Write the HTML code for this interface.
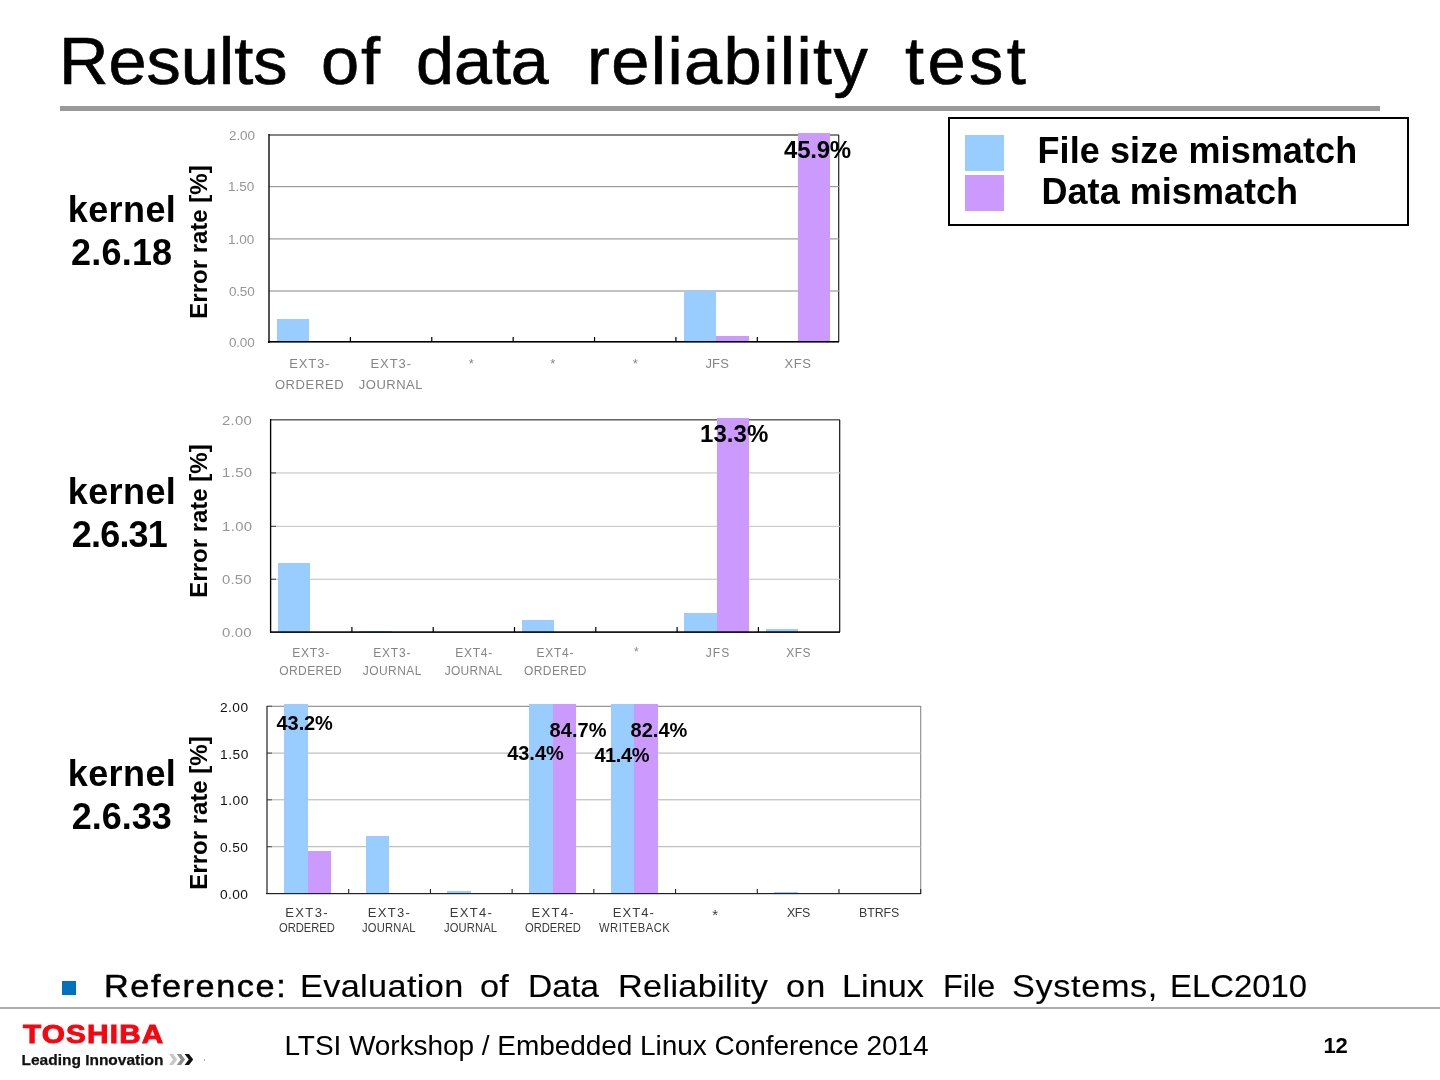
<!DOCTYPE html>
<html><head><meta charset="utf-8"><title>Results of data reliability test</title>
<style>
html,body{margin:0;padding:0;background:#fff;}
body{width:1440px;height:1080px;position:relative;overflow:hidden;font-family:"Liberation Sans",sans-serif;color:#000;}
.a{position:absolute;white-space:nowrap;line-height:1;}
.b{font-weight:bold;}
.r{position:absolute;}
.bl{background:#99ccff;}
.pu{background:#cc99ff;}
.er{position:absolute;font-weight:bold;white-space:nowrap;line-height:1;transform:translate(-50%,-50%) rotate(-90deg);}
</style></head><body>
<div class="a" style="left:58.8px;top:28.2px;font-size:66px;font-weight:normal;letter-spacing:-0.00px;transform-origin:0 0;transform:scaleX(1.038);-webkit-text-stroke:0.65px #000;">Results</div>
<div class="a" style="left:321.4px;top:28.2px;font-size:66px;font-weight:normal;letter-spacing:1.81px;transform-origin:0 0;transform:scaleX(1.040);-webkit-text-stroke:0.65px #000;">of</div>
<div class="a" style="left:416.4px;top:28.2px;font-size:66px;font-weight:normal;letter-spacing:0.00px;transform-origin:0 0;transform:scaleX(1.034);-webkit-text-stroke:0.65px #000;">data</div>
<div class="a" style="left:586.8px;top:28.2px;font-size:66px;font-weight:normal;letter-spacing:1.33px;transform-origin:0 0;transform:scaleX(1.040);-webkit-text-stroke:0.65px #000;">reliability</div>
<div class="a" style="left:905.2px;top:28.2px;font-size:66px;font-weight:normal;letter-spacing:3.29px;transform-origin:0 0;transform:scaleX(1.040);-webkit-text-stroke:0.65px #000;">test</div>
<div class="r " style="left:60.0px;top:106.0px;width:1320.0px;height:4.5px;background:#999;"></div>
<div class="r " style="left:269.0px;top:134.0px;width:570.0px;height:1.0px;background:rgba(51,51,51,0.60);"></div>
<div class="r " style="left:269.0px;top:135.0px;width:570.0px;height:1.0px;background:rgba(51,51,51,0.60);"></div>
<div class="r " style="left:838.0px;top:135.0px;width:1.0px;height:207.0px;background:rgba(34,34,34,0.90);"></div>
<div class="r " style="left:839.0px;top:135.0px;width:1.0px;height:207.0px;background:rgba(34,34,34,0.30);"></div>
<div class="r " style="left:269.0px;top:186.0px;width:570.0px;height:1.0px;background:rgba(154,154,154,1.00);"></div>
<div class="r " style="left:269.0px;top:187.0px;width:570.0px;height:1.0px;background:rgba(154,154,154,0.20);"></div>
<div class="r " style="left:269.0px;top:238.0px;width:570.0px;height:1.0px;background:rgba(154,154,154,0.70);"></div>
<div class="r " style="left:269.0px;top:239.0px;width:570.0px;height:1.0px;background:rgba(154,154,154,0.50);"></div>
<div class="r " style="left:269.0px;top:290.0px;width:570.0px;height:1.0px;background:rgba(154,154,154,0.60);"></div>
<div class="r " style="left:269.0px;top:291.0px;width:570.0px;height:1.0px;background:rgba(154,154,154,0.60);"></div>
<div class="r bl" style="left:277.0px;top:319.0px;width:32.0px;height:23.0px;"></div>
<div class="r bl" style="left:684.0px;top:291.0px;width:32.0px;height:51.0px;"></div>
<div class="r pu" style="left:716.0px;top:336.0px;width:33.0px;height:6.0px;"></div>
<div class="r pu" style="left:798.0px;top:133.0px;width:32.0px;height:209.0px;"></div>
<div class="r " style="left:268.0px;top:134.0px;width:1.0px;height:209.0px;background:rgba(0,0,0,0.68);"></div>
<div class="r " style="left:269.0px;top:134.0px;width:1.0px;height:209.0px;background:rgba(0,0,0,0.68);"></div>
<div class="r " style="left:268.0px;top:341.0px;width:571.0px;height:1.0px;background:rgba(0,0,0,1.00);"></div>
<div class="r " style="left:268.0px;top:342.0px;width:571.0px;height:1.0px;background:rgba(0,0,0,0.60);"></div>
<div class="r " style="left:349.0px;top:337.0px;width:1.0px;height:5.0px;background:rgba(0,0,0,0.21);"></div>
<div class="r " style="left:350.0px;top:337.0px;width:1.0px;height:5.0px;background:rgba(0,0,0,0.99);"></div>
<div class="r " style="left:431.0px;top:337.0px;width:1.0px;height:5.0px;background:rgba(0,0,0,0.83);"></div>
<div class="r " style="left:432.0px;top:337.0px;width:1.0px;height:5.0px;background:rgba(0,0,0,0.37);"></div>
<div class="r " style="left:512.0px;top:337.0px;width:1.0px;height:5.0px;background:rgba(0,0,0,0.44);"></div>
<div class="r " style="left:513.0px;top:337.0px;width:1.0px;height:5.0px;background:rgba(0,0,0,0.76);"></div>
<div class="r " style="left:593.0px;top:337.0px;width:1.0px;height:5.0px;background:rgba(0,0,0,0.06);"></div>
<div class="r " style="left:594.0px;top:337.0px;width:1.0px;height:5.0px;background:rgba(0,0,0,1.00);"></div>
<div class="r " style="left:595.0px;top:337.0px;width:1.0px;height:5.0px;background:rgba(0,0,0,0.14);"></div>
<div class="r " style="left:675.0px;top:337.0px;width:1.0px;height:5.0px;background:rgba(0,0,0,0.67);"></div>
<div class="r " style="left:676.0px;top:337.0px;width:1.0px;height:5.0px;background:rgba(0,0,0,0.53);"></div>
<div class="r " style="left:756.0px;top:337.0px;width:1.0px;height:5.0px;background:rgba(0,0,0,0.29);"></div>
<div class="r " style="left:757.0px;top:337.0px;width:1.0px;height:5.0px;background:rgba(0,0,0,0.91);"></div>
<div class="a" style="left:228.7px;top:129.8px;font-size:12.5px;font-weight:normal;letter-spacing:-0.10px;transform-origin:0 0;transform:scaleX(1.080);color:#969696;">2.00</div>
<div class="a" style="left:228.4px;top:181.2px;font-size:12.5px;font-weight:normal;letter-spacing:-0.02px;transform-origin:0 0;transform:scaleX(1.080);color:#969696;">1.50</div>
<div class="a" style="left:228.4px;top:233.8px;font-size:12.5px;font-weight:normal;letter-spacing:-0.02px;transform-origin:0 0;transform:scaleX(1.080);color:#969696;">1.00</div>
<div class="a" style="left:229.0px;top:285.8px;font-size:12.5px;font-weight:normal;letter-spacing:-0.19px;transform-origin:0 0;transform:scaleX(1.080);color:#969696;">0.50</div>
<div class="a" style="left:229.0px;top:337.2px;font-size:12.5px;font-weight:normal;letter-spacing:-0.19px;transform-origin:0 0;transform:scaleX(1.080);color:#969696;">0.00</div>
<div class="a" style="left:289.2px;top:357.4px;font-size:13px;font-weight:normal;letter-spacing:0.81px;color:#858585;">EXT3-</div>
<div class="a" style="left:274.9px;top:377.6px;font-size:13px;font-weight:normal;letter-spacing:0.61px;color:#858585;">ORDERED</div>
<div class="a" style="left:370.5px;top:357.4px;font-size:13px;font-weight:normal;letter-spacing:0.91px;color:#858585;">EXT3-</div>
<div class="a" style="left:358.8px;top:377.6px;font-size:13px;font-weight:normal;letter-spacing:0.50px;color:#858585;">JOURNAL</div>
<div class="a" style="left:468.8px;top:356.5px;font-size:13px;font-weight:normal;letter-spacing:0.50px;color:#858585;">*</div>
<div class="a" style="left:550.2px;top:356.5px;font-size:13px;font-weight:normal;letter-spacing:0.50px;color:#858585;">*</div>
<div class="a" style="left:632.8px;top:356.5px;font-size:13px;font-weight:normal;letter-spacing:0.50px;color:#858585;">*</div>
<div class="a" style="left:705.5px;top:357.4px;font-size:13px;font-weight:normal;letter-spacing:0.12px;color:#858585;">JFS</div>
<div class="a" style="left:784.5px;top:357.4px;font-size:13px;font-weight:normal;letter-spacing:0.57px;color:#858585;">XFS</div>
<div class="r " style="left:271.0px;top:419.0px;width:569.0px;height:1.0px;background:rgba(85,85,85,0.90);"></div>
<div class="r " style="left:271.0px;top:420.0px;width:569.0px;height:1.0px;background:rgba(85,85,85,0.50);"></div>
<div class="r " style="left:839.0px;top:420.0px;width:1.0px;height:212.0px;background:rgba(17,17,17,0.90);"></div>
<div class="r " style="left:840.0px;top:420.0px;width:1.0px;height:212.0px;background:rgba(17,17,17,0.30);"></div>
<div class="r " style="left:271.0px;top:472.0px;width:569.0px;height:1.0px;background:rgba(203,203,203,0.70);"></div>
<div class="r " style="left:271.0px;top:473.0px;width:569.0px;height:1.0px;background:rgba(203,203,203,0.50);"></div>
<div class="r " style="left:271.0px;top:525.0px;width:569.0px;height:1.0px;background:rgba(203,203,203,0.20);"></div>
<div class="r " style="left:271.0px;top:526.0px;width:569.0px;height:1.0px;background:rgba(203,203,203,1.00);"></div>
<div class="r " style="left:271.0px;top:578.0px;width:569.0px;height:1.0px;background:rgba(203,203,203,0.30);"></div>
<div class="r " style="left:271.0px;top:579.0px;width:569.0px;height:1.0px;background:rgba(203,203,203,0.90);"></div>
<div class="r bl" style="left:278.0px;top:563.0px;width:32.0px;height:69.0px;"></div>
<div class="r bl" style="left:359.0px;top:631.0px;width:33.0px;height:1.0px;"></div>
<div class="r bl" style="left:522.0px;top:620.0px;width:32.0px;height:12.0px;"></div>
<div class="r bl" style="left:684.0px;top:613.0px;width:33.0px;height:19.0px;"></div>
<div class="r pu" style="left:717.0px;top:418.0px;width:32.0px;height:214.0px;"></div>
<div class="r bl" style="left:766.0px;top:629.0px;width:32.0px;height:3.0px;"></div>
<div class="r " style="left:271.0px;top:472.0px;width:5.0px;height:1.0px;background:rgba(85,85,85,0.70);"></div>
<div class="r " style="left:271.0px;top:473.0px;width:5.0px;height:1.0px;background:rgba(85,85,85,0.50);"></div>
<div class="r " style="left:271.0px;top:525.0px;width:5.0px;height:1.0px;background:rgba(85,85,85,0.20);"></div>
<div class="r " style="left:271.0px;top:526.0px;width:5.0px;height:1.0px;background:rgba(85,85,85,1.00);"></div>
<div class="r " style="left:271.0px;top:578.0px;width:5.0px;height:1.0px;background:rgba(85,85,85,0.30);"></div>
<div class="r " style="left:271.0px;top:579.0px;width:5.0px;height:1.0px;background:rgba(85,85,85,0.90);"></div>
<div class="r " style="left:269.0px;top:419.0px;width:1.0px;height:214.0px;background:rgba(0,0,0,0.07);"></div>
<div class="r " style="left:270.0px;top:419.0px;width:1.0px;height:214.0px;background:rgba(0,0,0,1.00);"></div>
<div class="r " style="left:271.0px;top:419.0px;width:1.0px;height:214.0px;background:rgba(0,0,0,0.28);"></div>
<div class="r " style="left:270.0px;top:631.0px;width:570.0px;height:1.0px;background:rgba(0,0,0,0.70);"></div>
<div class="r " style="left:270.0px;top:632.0px;width:570.0px;height:1.0px;background:rgba(0,0,0,0.90);"></div>
<div class="r " style="left:351.0px;top:627.0px;width:1.0px;height:5.0px;background:rgba(0,0,0,0.70);"></div>
<div class="r " style="left:352.0px;top:627.0px;width:1.0px;height:5.0px;background:rgba(0,0,0,0.50);"></div>
<div class="r " style="left:432.0px;top:627.0px;width:1.0px;height:5.0px;background:rgba(0,0,0,0.40);"></div>
<div class="r " style="left:433.0px;top:627.0px;width:1.0px;height:5.0px;background:rgba(0,0,0,0.80);"></div>
<div class="r " style="left:513.0px;top:627.0px;width:1.0px;height:5.0px;background:rgba(0,0,0,0.10);"></div>
<div class="r " style="left:514.0px;top:627.0px;width:1.0px;height:5.0px;background:rgba(0,0,0,1.00);"></div>
<div class="r " style="left:515.0px;top:627.0px;width:1.0px;height:5.0px;background:rgba(0,0,0,0.10);"></div>
<div class="r " style="left:595.0px;top:627.0px;width:1.0px;height:5.0px;background:rgba(0,0,0,0.80);"></div>
<div class="r " style="left:596.0px;top:627.0px;width:1.0px;height:5.0px;background:rgba(0,0,0,0.40);"></div>
<div class="r " style="left:676.0px;top:627.0px;width:1.0px;height:5.0px;background:rgba(0,0,0,0.50);"></div>
<div class="r " style="left:677.0px;top:627.0px;width:1.0px;height:5.0px;background:rgba(0,0,0,0.70);"></div>
<div class="r " style="left:757.0px;top:627.0px;width:1.0px;height:5.0px;background:rgba(0,0,0,0.20);"></div>
<div class="r " style="left:758.0px;top:627.0px;width:1.0px;height:5.0px;background:rgba(0,0,0,1.00);"></div>
<div class="a" style="left:221.9px;top:414.0px;font-size:13.5px;font-weight:normal;letter-spacing:0.27px;transform-origin:0 0;transform:scaleX(1.100);color:#969696;">2.00</div>
<div class="a" style="left:221.6px;top:466.2px;font-size:13.5px;font-weight:normal;letter-spacing:0.36px;transform-origin:0 0;transform:scaleX(1.100);color:#969696;">1.50</div>
<div class="a" style="left:221.6px;top:519.5px;font-size:13.5px;font-weight:normal;letter-spacing:0.36px;transform-origin:0 0;transform:scaleX(1.100);color:#969696;">1.00</div>
<div class="a" style="left:222.1px;top:572.7px;font-size:13.5px;font-weight:normal;letter-spacing:0.19px;transform-origin:0 0;transform:scaleX(1.100);color:#969696;">0.50</div>
<div class="a" style="left:222.1px;top:625.7px;font-size:13.5px;font-weight:normal;letter-spacing:0.19px;transform-origin:0 0;transform:scaleX(1.100);color:#969696;">0.00</div>
<div class="a" style="left:292.3px;top:646.5px;font-size:12px;font-weight:normal;letter-spacing:0.72px;color:#858585;">EXT3-</div>
<div class="a" style="left:279.3px;top:664.5px;font-size:12px;font-weight:normal;letter-spacing:0.40px;color:#858585;">ORDERED</div>
<div class="a" style="left:373.2px;top:646.5px;font-size:12px;font-weight:normal;letter-spacing:0.83px;color:#858585;">EXT3-</div>
<div class="a" style="left:362.8px;top:664.5px;font-size:12px;font-weight:normal;letter-spacing:0.43px;color:#858585;">JOURNAL</div>
<div class="a" style="left:455.2px;top:646.5px;font-size:12px;font-weight:normal;letter-spacing:0.75px;color:#858585;">EXT4-</div>
<div class="a" style="left:444.8px;top:664.5px;font-size:12px;font-weight:normal;letter-spacing:0.24px;color:#858585;">JOURNAL</div>
<div class="a" style="left:536.6px;top:646.5px;font-size:12px;font-weight:normal;letter-spacing:0.72px;color:#858585;">EXT4-</div>
<div class="a" style="left:524.0px;top:664.5px;font-size:12px;font-weight:normal;letter-spacing:0.42px;color:#858585;">ORDERED</div>
<div class="a" style="left:634.0px;top:645.8px;font-size:12px;font-weight:normal;letter-spacing:0.45px;color:#858585;">*</div>
<div class="a" style="left:705.8px;top:646.5px;font-size:12px;font-weight:normal;letter-spacing:1.00px;color:#858585;">JFS</div>
<div class="a" style="left:786.2px;top:646.5px;font-size:12px;font-weight:normal;letter-spacing:0.50px;color:#858585;">XFS</div>
<div class="r " style="left:267.0px;top:705.0px;width:654.0px;height:1.0px;background:rgba(138,138,138,0.25);"></div>
<div class="r " style="left:267.0px;top:706.0px;width:654.0px;height:1.0px;background:rgba(138,138,138,0.85);"></div>
<div class="r " style="left:920.0px;top:706.0px;width:1.0px;height:188.0px;background:rgba(138,138,138,0.85);"></div>
<div class="r " style="left:921.0px;top:706.0px;width:1.0px;height:188.0px;background:rgba(138,138,138,0.25);"></div>
<div class="r " style="left:267.0px;top:752.0px;width:654.0px;height:1.0px;background:rgba(176,176,176,0.40);"></div>
<div class="r " style="left:267.0px;top:753.0px;width:654.0px;height:1.0px;background:rgba(176,176,176,0.60);"></div>
<div class="r " style="left:267.0px;top:799.0px;width:654.0px;height:1.0px;background:rgba(176,176,176,0.70);"></div>
<div class="r " style="left:267.0px;top:800.0px;width:654.0px;height:1.0px;background:rgba(176,176,176,0.30);"></div>
<div class="r " style="left:267.0px;top:846.0px;width:654.0px;height:1.0px;background:rgba(176,176,176,0.80);"></div>
<div class="r " style="left:267.0px;top:847.0px;width:654.0px;height:1.0px;background:rgba(176,176,176,0.20);"></div>
<div class="r bl" style="left:284.0px;top:704.0px;width:24.0px;height:190.0px;"></div>
<div class="r pu" style="left:308.0px;top:851.0px;width:23.0px;height:43.0px;"></div>
<div class="r bl" style="left:366.0px;top:836.0px;width:23.0px;height:58.0px;"></div>
<div class="r bl" style="left:447.0px;top:891.0px;width:24.0px;height:3.0px;"></div>
<div class="r bl" style="left:529.0px;top:704.0px;width:24.0px;height:190.0px;"></div>
<div class="r pu" style="left:553.0px;top:704.0px;width:23.0px;height:190.0px;"></div>
<div class="r bl" style="left:611.0px;top:704.0px;width:23.0px;height:190.0px;"></div>
<div class="r pu" style="left:634.0px;top:704.0px;width:24.0px;height:190.0px;"></div>
<div class="r bl" style="left:774.0px;top:892.0px;width:24.0px;height:2.0px;"></div>
<div class="r " style="left:267.0px;top:705.0px;width:5.0px;height:1.0px;background:rgba(85,85,85,0.25);"></div>
<div class="r " style="left:267.0px;top:706.0px;width:5.0px;height:1.0px;background:rgba(85,85,85,0.85);"></div>
<div class="r " style="left:267.0px;top:752.0px;width:5.0px;height:1.0px;background:rgba(85,85,85,0.45);"></div>
<div class="r " style="left:267.0px;top:753.0px;width:5.0px;height:1.0px;background:rgba(85,85,85,0.65);"></div>
<div class="r " style="left:267.0px;top:799.0px;width:5.0px;height:1.0px;background:rgba(85,85,85,0.75);"></div>
<div class="r " style="left:267.0px;top:800.0px;width:5.0px;height:1.0px;background:rgba(85,85,85,0.35);"></div>
<div class="r " style="left:267.0px;top:846.0px;width:5.0px;height:1.0px;background:rgba(85,85,85,0.85);"></div>
<div class="r " style="left:267.0px;top:847.0px;width:5.0px;height:1.0px;background:rgba(85,85,85,0.25);"></div>
<div class="r " style="left:266.0px;top:706.0px;width:1.0px;height:188.0px;background:rgba(34,34,34,0.60);"></div>
<div class="r " style="left:267.0px;top:706.0px;width:1.0px;height:188.0px;background:rgba(34,34,34,0.60);"></div>
<div class="r " style="left:266.0px;top:893.0px;width:655.0px;height:1.0px;background:rgba(34,34,34,1.00);"></div>
<div class="r " style="left:266.0px;top:894.0px;width:655.0px;height:1.0px;background:rgba(34,34,34,0.20);"></div>
<div class="r " style="left:348.0px;top:889.0px;width:1.0px;height:5.0px;background:rgba(34,34,34,0.84);"></div>
<div class="r " style="left:349.0px;top:889.0px;width:1.0px;height:5.0px;background:rgba(34,34,34,0.26);"></div>
<div class="r " style="left:429.0px;top:889.0px;width:1.0px;height:5.0px;background:rgba(34,34,34,0.12);"></div>
<div class="r " style="left:430.0px;top:889.0px;width:1.0px;height:5.0px;background:rgba(34,34,34,0.98);"></div>
<div class="r " style="left:511.0px;top:889.0px;width:1.0px;height:5.0px;background:rgba(34,34,34,0.41);"></div>
<div class="r " style="left:512.0px;top:889.0px;width:1.0px;height:5.0px;background:rgba(34,34,34,0.69);"></div>
<div class="r " style="left:593.0px;top:889.0px;width:1.0px;height:5.0px;background:rgba(34,34,34,0.70);"></div>
<div class="r " style="left:594.0px;top:889.0px;width:1.0px;height:5.0px;background:rgba(34,34,34,0.40);"></div>
<div class="r " style="left:675.0px;top:889.0px;width:1.0px;height:5.0px;background:rgba(34,34,34,0.99);"></div>
<div class="r " style="left:676.0px;top:889.0px;width:1.0px;height:5.0px;background:rgba(34,34,34,0.11);"></div>
<div class="r " style="left:756.0px;top:889.0px;width:1.0px;height:5.0px;background:rgba(34,34,34,0.27);"></div>
<div class="r " style="left:757.0px;top:889.0px;width:1.0px;height:5.0px;background:rgba(34,34,34,0.83);"></div>
<div class="r " style="left:838.0px;top:889.0px;width:1.0px;height:5.0px;background:rgba(34,34,34,0.56);"></div>
<div class="r " style="left:839.0px;top:889.0px;width:1.0px;height:5.0px;background:rgba(34,34,34,0.54);"></div>
<div class="r " style="left:920.0px;top:889.0px;width:1.0px;height:5.0px;background:rgba(34,34,34,0.85);"></div>
<div class="r " style="left:921.0px;top:889.0px;width:1.0px;height:5.0px;background:rgba(34,34,34,0.25);"></div>
<div class="a" style="left:219.9px;top:702.0px;font-size:12.5px;font-weight:normal;letter-spacing:0.39px;transform-origin:0 0;transform:scaleX(1.100);color:#111;">2.00</div>
<div class="a" style="left:219.6px;top:748.5px;font-size:12.5px;font-weight:normal;letter-spacing:0.48px;transform-origin:0 0;transform:scaleX(1.100);color:#111;">1.50</div>
<div class="a" style="left:219.6px;top:795.2px;font-size:12.5px;font-weight:normal;letter-spacing:0.48px;transform-origin:0 0;transform:scaleX(1.100);color:#111;">1.00</div>
<div class="a" style="left:220.1px;top:842.2px;font-size:12.5px;font-weight:normal;letter-spacing:0.31px;transform-origin:0 0;transform:scaleX(1.100);color:#111;">0.50</div>
<div class="a" style="left:220.1px;top:889.2px;font-size:12.5px;font-weight:normal;letter-spacing:0.31px;transform-origin:0 0;transform:scaleX(1.100);color:#111;">0.00</div>
<div class="a" style="left:285.2px;top:906.0px;font-size:13px;font-weight:normal;letter-spacing:1.39px;transform-origin:0 0;transform:scaleX(1.000);color:#3a3a3a;">EXT3-</div>
<div class="a" style="left:278.9px;top:920.5px;font-size:13px;font-weight:normal;letter-spacing:-0.02px;transform-origin:0 0;transform:scaleX(0.860);color:#3a3a3a;">ORDERED</div>
<div class="a" style="left:367.7px;top:906.0px;font-size:13px;font-weight:normal;letter-spacing:1.31px;transform-origin:0 0;transform:scaleX(1.000);color:#3a3a3a;">EXT3-</div>
<div class="a" style="left:361.8px;top:920.5px;font-size:13px;font-weight:normal;letter-spacing:0.27px;transform-origin:0 0;transform:scaleX(0.860);color:#3a3a3a;">JOURNAL</div>
<div class="a" style="left:449.7px;top:906.0px;font-size:13px;font-weight:normal;letter-spacing:1.31px;transform-origin:0 0;transform:scaleX(1.000);color:#3a3a3a;">EXT4-</div>
<div class="a" style="left:444.0px;top:920.5px;font-size:13px;font-weight:normal;letter-spacing:0.17px;transform-origin:0 0;transform:scaleX(0.860);color:#3a3a3a;">JOURNAL</div>
<div class="a" style="left:531.5px;top:906.0px;font-size:13px;font-weight:normal;letter-spacing:1.31px;transform-origin:0 0;transform:scaleX(1.000);color:#3a3a3a;">EXT4-</div>
<div class="a" style="left:524.9px;top:920.5px;font-size:13px;font-weight:normal;letter-spacing:-0.02px;transform-origin:0 0;transform:scaleX(0.860);color:#3a3a3a;">ORDERED</div>
<div class="a" style="left:612.7px;top:906.0px;font-size:13px;font-weight:normal;letter-spacing:1.06px;transform-origin:0 0;transform:scaleX(1.000);color:#3a3a3a;">EXT4-</div>
<div class="a" style="left:599.0px;top:920.5px;font-size:13px;font-weight:normal;letter-spacing:0.62px;transform-origin:0 0;transform:scaleX(0.860);color:#3a3a3a;">WRITEBACK</div>
<div class="a" style="left:712.2px;top:907.2px;font-size:15px;font-weight:normal;letter-spacing:1.25px;color:#3a3a3a;">*</div>
<div class="a" style="left:786.5px;top:906.0px;font-size:13px;font-weight:normal;letter-spacing:-0.44px;transform-origin:0 0;transform:scaleX(0.950);color:#3a3a3a;">XFS</div>
<div class="a" style="left:859.0px;top:906.0px;font-size:13px;font-weight:normal;letter-spacing:-0.07px;transform-origin:0 0;transform:scaleX(0.950);color:#3a3a3a;">BTRFS</div>
<div class="er" style="left:198.7px;top:242.2px;font-size:24px;">Error rate [%]</div>
<div class="er" style="left:198.7px;top:520.5px;font-size:24px;">Error rate [%]</div>
<div class="er" style="left:198.7px;top:812.5px;font-size:24px;">Error rate [%]</div>
<div class="a" style="left:67.7px;top:191.6px;font-size:36px;font-weight:bold;letter-spacing:0.42px;">kernel</div>
<div class="a" style="left:71.0px;top:234.8px;font-size:36px;font-weight:bold;letter-spacing:0.21px;">2.6.18</div>
<div class="a" style="left:67.7px;top:473.6px;font-size:36px;font-weight:bold;letter-spacing:0.42px;">kernel</div>
<div class="a" style="left:71.8px;top:516.8px;font-size:36px;font-weight:bold;letter-spacing:-0.81px;">2.6.31</div>
<div class="a" style="left:67.7px;top:755.9px;font-size:36px;font-weight:bold;letter-spacing:0.42px;">kernel</div>
<div class="a" style="left:71.8px;top:799.1px;font-size:36px;font-weight:bold;letter-spacing:-0.04px;">2.6.33</div>
<div class="a" style="left:784.1px;top:137.8px;font-size:24px;font-weight:bold;letter-spacing:-0.26px;">45.9%</div>
<div class="a" style="left:700.0px;top:422.1px;font-size:24px;font-weight:bold;letter-spacing:0.07px;">13.3%</div>
<div class="a" style="left:276.6px;top:712.9px;font-size:20px;font-weight:bold;letter-spacing:-0.10px;">43.2%</div>
<div class="a" style="left:549.5px;top:719.9px;font-size:20px;font-weight:bold;letter-spacing:0.10px;">84.7%</div>
<div class="a" style="left:630.5px;top:719.9px;font-size:20px;font-weight:bold;letter-spacing:0.03px;">82.4%</div>
<div class="a" style="left:507.2px;top:742.5px;font-size:20px;font-weight:bold;letter-spacing:-0.03px;">43.4%</div>
<div class="a" style="left:594.4px;top:745.0px;font-size:20px;font-weight:bold;letter-spacing:-0.40px;">41.4%</div>
<div class="r" style="left:948px;top:116.5px;width:461px;height:109.5px;border:2px solid #000;box-sizing:border-box;"></div>
<div class="r bl" style="left:965.0px;top:135.0px;width:39.0px;height:35.5px;"></div>
<div class="r pu" style="left:965.0px;top:175.0px;width:39.0px;height:35.5px;"></div>
<div class="a" style="left:1037.5px;top:133.0px;font-size:36px;font-weight:bold;letter-spacing:0.09px;">File size mismatch</div>
<div class="a" style="left:1041.5px;top:173.6px;font-size:36px;font-weight:bold;letter-spacing:0.04px;">Data mismatch</div>
<div class="r " style="left:62.0px;top:981.0px;width:14.0px;height:14.0px;background:#0070c0;"></div>
<div class="a" style="left:104.0px;top:969.5px;font-size:32px;font-weight:normal;letter-spacing:1.47px;transform-origin:0 0;transform:scaleX(1.070);-webkit-text-stroke:0.5px #000;">Reference:</div>
<div class="a" style="left:299.6px;top:969.7px;font-size:32px;font-weight:normal;letter-spacing:0.34px;transform-origin:0 0;transform:scaleX(1.070);-webkit-text-stroke:0.15px #000;">Evaluation</div>
<div class="a" style="left:480.4px;top:969.7px;font-size:32px;font-weight:normal;letter-spacing:0.29px;transform-origin:0 0;transform:scaleX(1.070);-webkit-text-stroke:0.15px #000;">of</div>
<div class="a" style="left:528.1px;top:969.7px;font-size:32px;font-weight:normal;letter-spacing:0.00px;transform-origin:0 0;transform:scaleX(1.051);-webkit-text-stroke:0.15px #000;">Data</div>
<div class="a" style="left:618.3px;top:969.7px;font-size:32px;font-weight:normal;letter-spacing:0.32px;transform-origin:0 0;transform:scaleX(1.070);-webkit-text-stroke:0.15px #000;">Reliability</div>
<div class="a" style="left:786.4px;top:969.7px;font-size:32px;font-weight:normal;letter-spacing:1.02px;transform-origin:0 0;transform:scaleX(1.070);-webkit-text-stroke:0.15px #000;">on</div>
<div class="a" style="left:841.6px;top:969.7px;font-size:32px;font-weight:normal;letter-spacing:0.02px;transform-origin:0 0;transform:scaleX(1.070);-webkit-text-stroke:0.15px #000;">Linux</div>
<div class="a" style="left:942.5px;top:969.7px;font-size:32px;font-weight:normal;letter-spacing:0.00px;transform-origin:0 0;transform:scaleX(1.012);-webkit-text-stroke:0.15px #000;">File</div>
<div class="a" style="left:1011.7px;top:969.7px;font-size:32px;font-weight:normal;letter-spacing:0.61px;transform-origin:0 0;transform:scaleX(1.070);-webkit-text-stroke:0.15px #000;">Systems,</div>
<div class="a" style="left:1170.1px;top:969.7px;font-size:32px;font-weight:normal;letter-spacing:0.00px;transform-origin:0 0;transform:scaleX(1.027);-webkit-text-stroke:0.15px #000;">ELC2010</div>
<div class="r " style="left:0.0px;top:1007.0px;width:1440.0px;height:2.0px;background:#adadad;"></div>
<div class="r " style="left:204.0px;top:1059.0px;width:1.0px;height:2.0px;background:#aaa;"></div>
<div class="a" style="left:22.5px;top:1021.0px;font-size:26.5px;font-weight:bold;letter-spacing:1.08px;transform-origin:0 0;transform:scaleX(1.120);color:#f8050f;-webkit-text-stroke:0.9px #f8050f;">TOSHIBA</div>
<div class="a" style="left:21.5px;top:1052.2px;font-size:15.5px;font-weight:bold;letter-spacing:-0.01px;color:#111;-webkit-text-stroke:0.25px #111;">Leading Innovation</div>
<svg class="r" style="left:168.5px;top:1053.5px" width="26" height="11" viewBox="0 0 26 11"><path d="M0 0h4.2l4 5.5-4 5.500H0l4-5.5z" fill="#c8c8c8"/><path d="M7.800 0h4.200l4 5.5-4 5.500H7.800l4-5.5z" fill="#8c8c8c"/><path d="M15.600 0h4.400l4.200 5.500-4.200 5.500h-4.400l4.200-5.500z" fill="#111"/></svg>
<div class="a" style="left:284.4px;top:1031.8px;font-size:28px;font-weight:normal;letter-spacing:-0.05px;">LTSI Workshop / Embedded Linux Conference 2014</div>
<div class="a" style="left:1323.5px;top:1034.5px;font-size:22px;font-weight:bold;letter-spacing:-0.30px;">12</div>
</body></html>
